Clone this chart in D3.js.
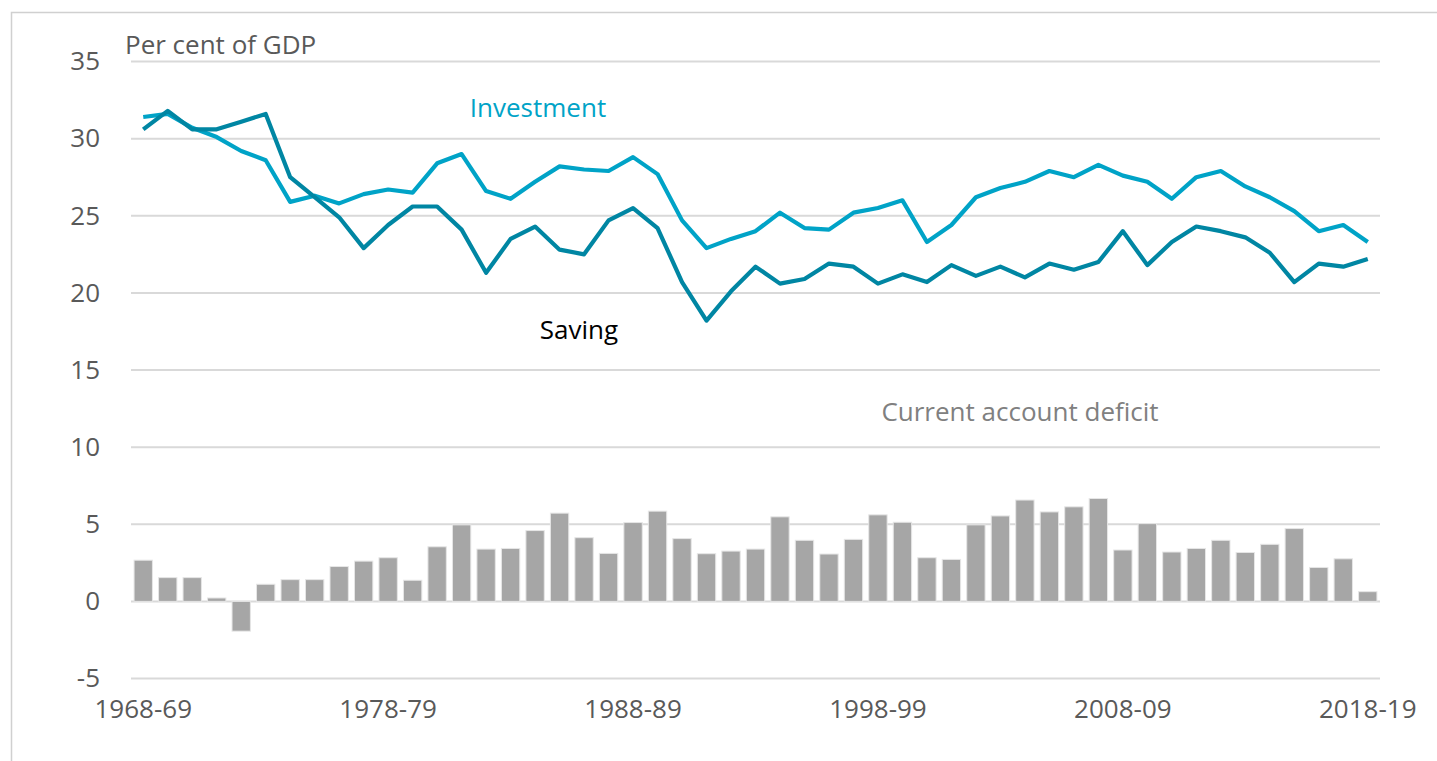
<!DOCTYPE html>
<html>
<head>
<meta charset="utf-8">
<script src="https://cdn.jsdelivr.net/npm/d3@7"></script>
<style>
  body { margin: 0; background: #fff; }
  svg { display: block; font-family: "Open Sans", sans-serif; }
</style>
</head>
<body>
<svg id="chart" width="1437" height="761"></svg>
<script>
// Financial years 1968-69 .. 2018-19
const years = d3.range(1968, 2019).map(y => y + "-" + String((y + 1) % 100).padStart(2, "0"));
const tickYears = ["1968-69", "1978-79", "1988-89", "1998-99", "2008-09", "2018-19"];
const yTicks = [-5, 0, 5, 10, 15, 20, 25, 30, 35];

const investment = [31.4, 31.6, 30.7, 30.1, 29.2, 28.6, 25.9, 26.3, 25.8, 26.4, 26.7, 26.5,
  28.4, 29.0, 26.6, 26.1, 27.2, 28.2, 28.0, 27.9, 28.8, 27.7, 24.7, 22.9, 23.5, 24.0,
  25.2, 24.2, 24.1, 25.2, 25.5, 26.0, 23.3, 24.4, 26.2, 26.8, 27.2, 27.9, 27.5, 28.3,
  27.6, 27.2, 26.1, 27.5, 27.9, 26.9, 26.2, 25.3, 24.0, 24.4, 23.3];

const saving = [30.6, 31.8, 30.6, 30.6, 31.1, 31.6, 27.5, 26.2, 24.9, 22.9, 24.4, 25.6,
  25.6, 24.1, 21.3, 23.5, 24.3, 22.8, 22.5, 24.7, 25.5, 24.2, 20.7, 18.2, 20.1, 21.7,
  20.6, 20.9, 21.9, 21.7, 20.6, 21.2, 20.7, 21.8, 21.1, 21.7, 21.0, 21.9, 21.5, 22.0,
  24.0, 21.8, 23.3, 24.3, 24.0, 23.6, 22.6, 20.7, 21.9, 21.7, 22.2];

const deficit = [2.67, 1.54, 1.54, 0.22, -1.93, 1.11, 1.41, 1.41, 2.26, 2.61, 2.83, 1.37,
  3.54, 4.96, 3.39, 3.43, 4.59, 5.72, 4.13, 3.11, 5.11, 5.85, 4.07, 3.09, 3.26, 3.39,
  5.48, 3.96, 3.07, 4.02, 5.61, 5.13, 2.83, 2.72, 4.96, 5.54, 6.57, 5.80, 6.13, 6.67,
  3.33, 5.04, 3.20, 3.43, 3.96, 3.17, 3.70, 4.72, 2.20, 2.76, 0.63];

const svg = d3.select("#chart");

// chart frame (partly outside the picture)
svg.append("path")
  .attr("d", "M11.5,770 V12.5 H1450")
  .attr("fill", "none")
  .attr("stroke", "#d0d0d0")
  .attr("stroke-width", 1.5);

const x = d3.scaleBand()
  .domain(years)
  .range([131, 1380])
  .paddingInner(0.25)
  .paddingOuter(0.125);

const y = d3.scaleLinear()
  .domain([-5, 35])
  .range([678.5, 61.5]);

// gridlines
svg.append("g")
  .selectAll("line")
  .data(yTicks)
  .join("line")
  .attr("x1", 131)
  .attr("x2", 1380)
  .attr("y1", d => y(d))
  .attr("y2", d => y(d))
  .attr("stroke", "#d9d9d9")
  .attr("stroke-width", 2);

// y axis labels (plain hyphen for negatives, like the original)
const yAxis = svg.append("g")
  .attr("transform", "translate(100,0)")
  .call(d3.axisLeft(y).tickValues(yTicks).tickSize(0).tickPadding(0).tickFormat(d => String(d)));
yAxis.select(".domain").remove();
yAxis.selectAll("text")
  .attr("font-size", 26)
  .attr("font-family", "'Open Sans', sans-serif")
  .attr("fill", "#595959");

// x axis labels
const xAxis = svg.append("g")
  .attr("transform", "translate(0,700)")
  .call(d3.axisBottom(x).tickValues(tickYears).tickSize(0).tickPadding(0));
xAxis.select(".domain").remove();
xAxis.selectAll("text")
  .attr("font-size", 26)
  .attr("font-family", "'Open Sans', sans-serif")
  .attr("fill", "#595959");

// bars
svg.append("g")
  .selectAll("rect")
  .data(deficit)
  .join("rect")
  .attr("x", (d, i) => x(years[i]))
  .attr("y", d => y(Math.max(0, d)))
  .attr("width", x.bandwidth())
  .attr("height", d => Math.abs(y(d) - y(0)))
  .attr("fill", "#a6a6a6")
  .attr("stroke", "#e6e6e6")
  .attr("stroke-width", 1);

// lines
const line = d3.line()
  .x((d, i) => x(years[i]) + x.bandwidth() / 2)
  .y(d => y(d));

svg.append("path")
  .datum(investment)
  .attr("d", line)
  .attr("fill", "none")
  .attr("stroke", "#00a3c7")
  .attr("stroke-width", 4.2)
  .attr("stroke-linejoin", "round");

svg.append("path")
  .datum(saving)
  .attr("d", line)
  .attr("fill", "none")
  .attr("stroke", "#0086a3")
  .attr("stroke-width", 4.2)
  .attr("stroke-linejoin", "round");

// annotations
const ann = svg.append("g").attr("font-size", 26).attr("font-family", "'Open Sans', sans-serif");
ann.append("text").attr("x", 125).attr("y", 54).attr("fill", "#595959").text("Per cent of GDP");
ann.append("text").attr("x", 538).attr("y", 117).attr("text-anchor", "middle").attr("fill", "#00a3c7").text("Investment");
ann.append("text").attr("x", 579).attr("y", 339).attr("text-anchor", "middle").attr("fill", "#000").text("Saving");
ann.append("text").attr("x", 1020).attr("y", 421).attr("text-anchor", "middle").attr("fill", "#808080").text("Current account deficit");
</script>
</body>
</html>
